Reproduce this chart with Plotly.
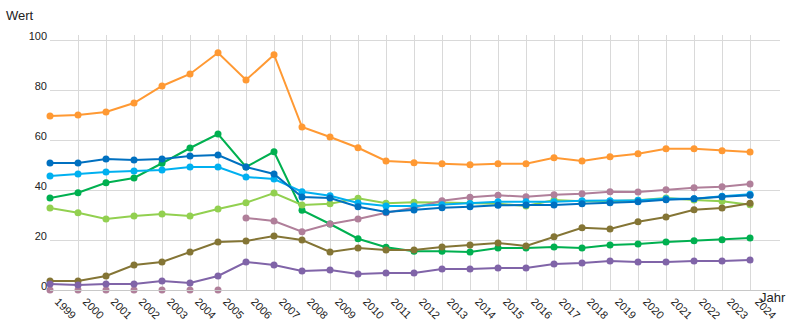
import plotly.graph_objects as go

years = list(range(1999, 2025))

orange = [69.6, 70.0, 71.2, 74.8, 81.6, 86.4, 94.9, 84.0, 94.1, 65.2, 61.2, 56.9, 51.6, 50.9, 50.5, 50.1, 50.5, 50.5, 52.9, 51.6, 53.3, 54.5, 56.5, 56.5, 55.7, 55.2]
green = [36.8, 38.9, 42.9, 44.8, 50.7, 56.8, 62.4, 49.2, 55.3, 31.9, 26.4, 20.5, 17.1, 15.5, 15.5, 15.2, 16.8, 16.8, 17.2, 16.8, 18.0, 18.4, 19.2, 19.7, 20.1, 20.8]
dark_blue = [50.8, 50.8, 52.4, 52.0, 52.4, 53.6, 54.0, 49.2, 46.4, 37.2, 36.8, 33.3, 31.2, 32.0, 32.9, 33.3, 33.9, 34.0, 34.0, 34.5, 34.9, 35.3, 36.1, 36.5, 37.3, 37.9]
light_blue = [45.6, 46.4, 47.2, 47.6, 48.0, 49.2, 49.2, 45.2, 44.4, 39.3, 37.7, 34.8, 33.6, 33.6, 34.1, 34.6, 35.3, 35.3, 35.3, 35.7, 35.7, 35.9, 36.5, 36.5, 37.5, 38.3]
light_green = [32.8, 30.9, 28.4, 29.6, 30.4, 29.6, 32.4, 34.9, 38.8, 34.0, 34.5, 36.7, 34.7, 35.1, 35.0, 34.7, 34.5, 33.6, 36.0, 35.5, 35.5, 35.9, 36.8, 36.0, 35.5, 34.1]
mauve_early = [0, 0, 0, 0, 0, 0, 0, None, None, None, None, None, None, None, None, None, None, None, None, None, None, None, None, None, None, None]
mauve = [None, None, None, None, None, None, None, 28.8, 27.6, 23.3, 26.4, 28.4, 30.9, 32.9, 35.7, 37.1, 37.9, 37.3, 38.1, 38.5, 39.3, 39.2, 40.1, 40.9, 41.3, 42.4]
olive = [3.6, 3.6, 5.6, 10.0, 11.2, 15.2, 19.2, 19.6, 21.6, 20.0, 15.2, 16.8, 16.0, 16.0, 17.2, 18.0, 18.8, 17.6, 21.3, 24.9, 24.4, 27.3, 29.2, 32.1, 32.8, 34.7]
purple = [2.4, 2.0, 2.4, 2.4, 3.6, 2.8, 5.6, 11.2, 10.0, 7.6, 8.0, 6.4, 6.8, 6.8, 8.4, 8.4, 8.8, 8.8, 10.4, 10.8, 11.6, 11.2, 11.2, 11.6, 11.6, 12.0]

y_ticks = [0, 20, 40, 60, 80, 100]
x_title = "Jahr"
y_title = "Wert"

series = [
    (orange, "#ff9933", "lines+markers"),
    (green, "#00b050", "lines+markers"),
    (light_green, "#92d050", "lines+markers"),
    (mauve_early, "#b07f9a", "markers"),
    (mauve, "#b07f9a", "lines+markers"),
    (olive, "#847535", "lines+markers"),
    (purple, "#8064a8", "lines+markers"),
    (light_blue, "#00b0f0", "lines+markers"),
    (dark_blue, "#0070c0", "lines+markers"),
]

fig = go.Figure()
for vals, col, mode in series:
    fig.add_trace(go.Scatter(
        x=years, y=vals, mode=mode,
        line=dict(color=col, width=2),
        marker=dict(color=col, size=7),
        cliponaxis=False, connectgaps=False, showlegend=False,
    ))

font = dict(family="Liberation Sans, Arial, sans-serif", color="#222")
fig.update_layout(
    width=795, height=331,
    margin=dict(l=50, r=15, t=35, b=41),
    paper_bgcolor="white", plot_bgcolor="white",
    font=dict(**font, size=10),
    showlegend=False,
)
fig.update_xaxes(
    range=[1999, 2025.07], tickmode="array", tickvals=years,
    ticktext=[str(y) for y in years], tickangle=45,
    showgrid=True, gridcolor="#d9d9d9", gridwidth=1,
    showline=True, linecolor="#c8c8c8", linewidth=1,
    zeroline=False, ticks="", tickfont=dict(size=11),
    ticklabelshift=8, automargin=False,
)
fig.update_yaxes(
    range=[0, 102], tickmode="array", tickvals=y_ticks,
    showgrid=True, gridcolor="#d9d9d9", gridwidth=1,
    showline=False, zeroline=False, ticks="",
    ticklabelstandoff=2, ticklabelshift=-4, tickfont=dict(size=11),
    automargin=False,
)
fig.add_annotation(text=y_title, xref="paper", yref="paper", x=-0.063, y=1.0,
                   yshift=29, xanchor="left", yanchor="top", showarrow=False,
                   font=dict(size=13, **font))
fig.add_annotation(text=x_title, xref="paper", yref="paper", x=1.0, y=0,
                   xshift=-22, yshift=2, xanchor="left", yanchor="top", showarrow=False,
                   font=dict(size=13, **font))

fig.write_html("out.html")
